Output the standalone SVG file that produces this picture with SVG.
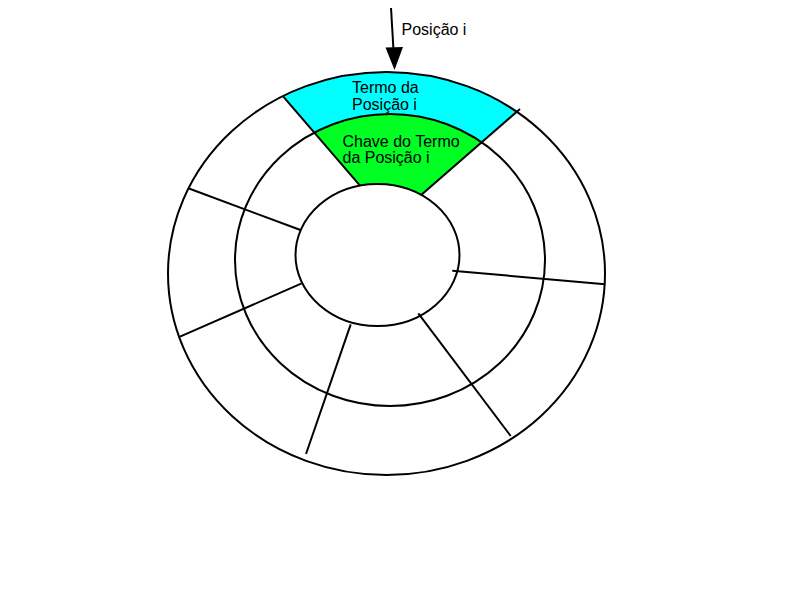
<svg xmlns="http://www.w3.org/2000/svg" width="800" height="600" viewBox="0 0 800 600">
<style>
.ln{fill:none;stroke:#000;stroke-width:2}
.t{font-family:"Liberation Sans",Arial,sans-serif;font-size:16px;fill:#000}
</style>
<rect width="800" height="600" fill="#fff"/>
<g id="termo">
<path d="M 283.3 96.7 A 218.5 201.5 0 0 1 516.8 111.7 L 481.4 142.1 A 155 146 0 0 0 314.4 132.5 Z" fill="#00ffff"/>
<text class="t" x="352" y="93">Termo da</text>
<text class="t" x="352" y="109.5">Posição i</text>
</g>
<g id="chave">
<path d="M 314.4 132.5 A 155 146 0 0 1 481.4 142.1 L 421.7 195.2 A 82 71 0 0 0 360 185.6 Z" fill="#00ff22"/>
<text class="t" x="342.5" y="147">Chave do Termo</text>
<text class="t" x="342.5" y="163">da Posição i</text>
</g>
<g id="rings">
<ellipse class="ln" cx="386.5" cy="273.5" rx="218.5" ry="201.5"/>
<ellipse class="ln" cx="390" cy="260" rx="155" ry="146"/>
<ellipse class="ln" cx="377.5" cy="255" rx="82" ry="71"/>
</g>
<g id="connectors">
<line class="ln" x1="283.3" y1="96.7" x2="360" y2="185.6"/>
<line class="ln" x1="520" y1="109" x2="421.7" y2="194.5"/>
<line class="ln" x1="188.3" y1="188.3" x2="300.5" y2="230"/>
<line class="ln" x1="180" y1="336.7" x2="301.7" y2="283.3"/>
<line class="ln" x1="452.3" y1="270.7" x2="605" y2="284.3"/>
<line class="ln" x1="418.3" y1="313.3" x2="510.7" y2="436"/>
<line class="ln" x1="350.7" y1="324.3" x2="306" y2="454"/>
<line class="ln" x1="391" y1="8" x2="393.5" y2="50"/>
<polygon points="385.5,47.5 403,47 394.5,70" fill="#000"/>
</g>
<g id="posicao">
<text class="t" x="401.5" y="34.5">Posição i</text>
</g>
</svg>
